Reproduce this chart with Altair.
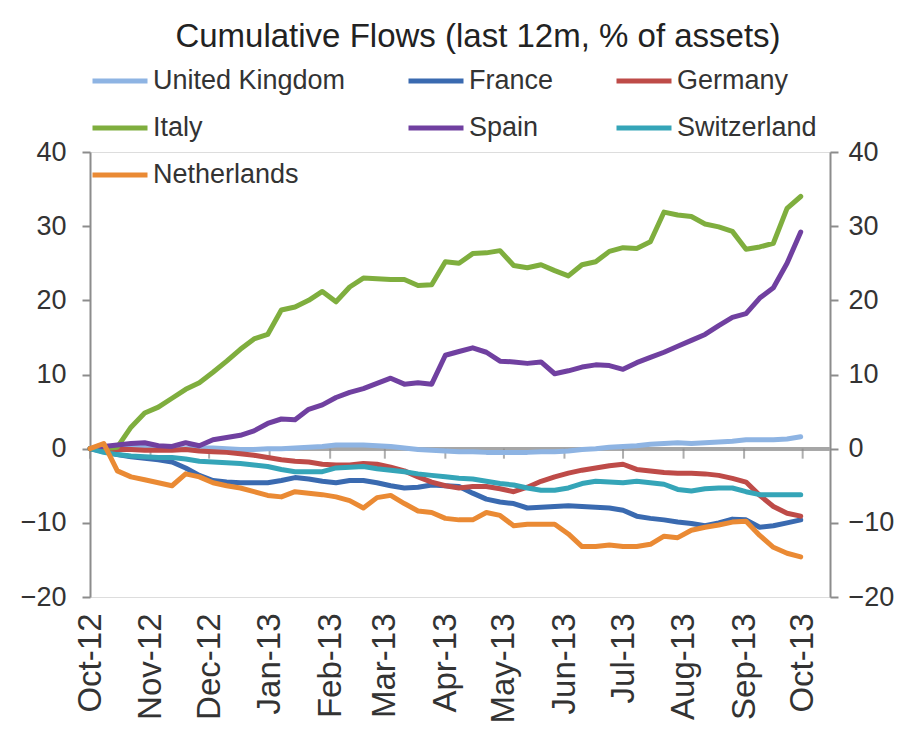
import altair as alt
import pandas as pd

# ---------------- data ----------------
countries = ["United Kingdom", "France", "Germany", "Italy", "Spain", "Switzerland", "Netherlands"]
colors = ["#8eb4e3", "#3a6ab0", "#be4b48", "#7fae3e", "#7040a0", "#35a5b8", "#ea8a34"]

weeks = pd.date_range("2012-10-01", periods=53, freq="7D")
month_ticks = pd.date_range("2012-10-01", periods=13, freq="MS")

united_kingdom = [0, 0.1, 0.1, 0.2, 0.2, 0.1, 0.0, 0.0, 0.1, 0.1, 0.0, -0.1, -0.1, 0.0, 0.0, 0.1,
                  0.2, 0.3, 0.5, 0.5, 0.5, 0.4, 0.3, 0.1, -0.1, -0.2, -0.3, -0.4, -0.4, -0.5, -0.5,
                  -0.5, -0.5, -0.4, -0.4, -0.3, -0.1, 0.0, 0.2, 0.3, 0.4, 0.6, 0.7, 0.8, 0.7, 0.8,
                  0.9, 1.0, 1.2, 1.2, 1.2, 1.3, 1.6]
france = [0, -0.4, -0.8, -1.1, -1.3, -1.5, -1.8, -2.6, -3.6, -4.3, -4.5, -4.6, -4.6, -4.6, -4.3,
          -3.9, -4.1, -4.4, -4.6, -4.3, -4.3, -4.6, -5.0, -5.3, -5.2, -4.9, -5.0, -5.1, -6.0, -6.8,
          -7.2, -7.4, -8.0, -7.9, -7.8, -7.7, -7.8, -7.9, -8.0, -8.3, -9.1, -9.4, -9.6, -9.9,
          -10.1, -10.4, -10.0, -9.5, -9.6, -10.6, -10.4, -10.0, -9.6]
germany = [0, -0.1, -0.1, -0.1, -0.2, -0.2, -0.2, -0.1, -0.3, -0.4, -0.5, -0.7, -0.9, -1.2, -1.5,
           -1.7, -1.8, -2.1, -2.2, -2.2, -2.0, -2.1, -2.5, -3.0, -3.8, -4.5, -5.0, -5.3, -5.1, -5.1,
           -5.4, -5.8, -5.2, -4.4, -3.8, -3.3, -2.9, -2.6, -2.3, -2.1, -2.8, -3.0, -3.2, -3.3,
           -3.3, -3.4, -3.6, -4.0, -4.5, -6.3, -7.8, -8.7, -9.1]
italy = [0, 0, 0.2, 2.9, 4.8, 5.6, 6.8, 8.0, 8.9, 10.3, 11.8, 13.4, 14.8, 15.4, 18.7, 19.1, 20.0,
         21.2, 19.8, 21.8, 23.0, 22.9, 22.8, 22.8, 22.0, 22.1, 25.2, 25.0, 26.3, 26.4, 26.7, 24.7,
         24.4, 24.8, 24.0, 23.3, 24.8, 25.2, 26.6, 27.1, 27.0, 27.9, 31.9, 31.5, 31.3, 30.3, 29.9,
         29.3, 26.9, 27.2, 27.7, 32.4, 34.0]
spain = [0, 0.3, 0.5, 0.7, 0.8, 0.4, 0.3, 0.8, 0.4, 1.2, 1.5, 1.8, 2.4, 3.4, 4.0, 3.9, 5.3, 5.9,
         6.9, 7.6, 8.1, 8.8, 9.5, 8.7, 8.9, 8.7, 12.6, 13.1, 13.6, 13.0, 11.8, 11.7, 11.5, 11.7,
         10.1, 10.5, 11.0, 11.3, 11.2, 10.7, 11.6, 12.3, 13.0, 13.8, 14.6, 15.4, 16.6, 17.7, 18.2,
         20.3, 21.7, 25.0, 29.2]
switzerland = [0, -0.5, -0.8, -1.0, -1.1, -1.2, -1.2, -1.4, -1.7, -1.8, -1.9, -2.0, -2.2, -2.4,
               -2.8, -3.1, -3.1, -3.1, -2.6, -2.5, -2.4, -2.7, -2.9, -3.1, -3.4, -3.6, -3.8, -4.0,
               -4.1, -4.4, -4.7, -4.9, -5.3, -5.6, -5.6, -5.3, -4.7, -4.4, -4.5, -4.6, -4.4, -4.6,
               -4.8, -5.5, -5.7, -5.4, -5.3, -5.3, -5.8, -6.2, -6.2, -6.2, -6.2]
netherlands = [0, 0.7, -3.0, -3.8, -4.2, -4.6, -5.0, -3.4, -3.8, -4.6, -5.0, -5.3, -5.8, -6.3,
               -6.5, -5.8, -6.0, -6.2, -6.5, -7.0, -8.0, -6.6, -6.3, -7.4, -8.4, -8.6, -9.4, -9.6,
               -9.6, -8.6, -9.0, -10.4, -10.2, -10.2, -10.2, -11.5, -13.2, -13.2, -13.0, -13.2,
               -13.2, -12.9, -11.8, -12.0, -11.0, -10.6, -10.3, -9.9, -9.8, -11.7, -13.3, -14.1,
               -14.6]

series = [united_kingdom, france, germany, italy, spain, switzerland, netherlands]
y_ticks = [-20, -10, 0, 10, 20, 30, 40]

rows = []
for name, vals in zip(countries, series):
    for d, v in zip(weeks, vals):
        rows.append({"date": d, "value": v, "country": name})
df = pd.DataFrame(rows)
df_months = pd.DataFrame({"date": month_ticks})

FONT = "Liberation Sans"
GREY = "#8c8c8c"
TXT = "#333333"

x_scale = alt.Scale(domain=[alt.DateTime(year=2012, month=10, date=1),
                            alt.DateTime(year=2013, month=10, date=15)])
x_axis = alt.Axis(values=[alt.DateTime(year=d.year, month=d.month, date=1) for d in month_ticks],
                  format="%b-%y", labelAngle=270, labelAlign="right", labelBaseline="middle",
                  labelFontSize=33, labelFont=FONT, labelColor=TXT, labelPadding=16,
                  domain=False, ticks=False, tickSize=0, grid=False, title=None,
                  labelOverlap=False, labelFlush=False)
y_scale = alt.Scale(domain=[-20, 40], nice=False)


def y_axis(orient, pad):
    return alt.Axis(orient=orient, values=y_ticks, labelFontSize=27, labelFont=FONT,
                    labelColor=TXT, labelPadding=pad, domainColor=GREY, domainWidth=2,
                    tickColor=GREY, tickWidth=2, tickSize=8, grid=False, title=None)


zero_rule = alt.Chart(df_months).mark_rule(color="#a6a6a6", strokeWidth=3).encode(
    y=alt.Y(datum=0, type="quantitative", scale=y_scale, axis=y_axis("right", 10))
)

month_marks = alt.Chart(df_months).mark_tick(
    orient="vertical", size=10, thickness=2, color=GREY, yOffset=5
).encode(
    x=alt.X("date:T", scale=x_scale, axis=x_axis),
    y=alt.Y(datum=0, type="quantitative", scale=y_scale, axis=None),
)

lines = alt.Chart(df).mark_line(strokeWidth=5, strokeJoin="round", strokeCap="round").encode(
    x=alt.X("date:T", scale=x_scale, axis=x_axis),
    y=alt.Y("value:Q", scale=y_scale, axis=y_axis("left", 16)),
    color=alt.Color("country:N", scale=alt.Scale(domain=countries, range=colors),
                    legend=alt.Legend(orient="none", legendX=0, legendY=-101, columns=3,
                                      direction="horizontal",
                                      symbolType="stroke", symbolStrokeWidth=5,
                                      symbolSize=3025, labelFontSize=27, labelFont=FONT,
                                      labelColor=TXT, labelOffset=3, rowPadding=4,
                                      columnPadding=52, gridAlign="each", title=None,
                                      padding=0, labelLimit=400)),
    detail="country:N",
)

chart = alt.layer(zero_rule, month_marks, lines).resolve_axis(y="independent").properties(
    width=740,
    height=445,
    title=alt.TitleParams("Cumulative Flows (last 12m, % of assets)", fontSize=33, font=FONT,
                          fontWeight="normal", color="#222222", offset=30, dy=33, dx=18),
    autosize=alt.AutoSizeParams(type="none"),
    padding={"left": 82, "top": 144, "right": 68, "bottom": 145},
).configure_view(stroke=None).configure(background="white")

chart.save("out.html", embed_options={"renderer": "svg", "actions": False})
